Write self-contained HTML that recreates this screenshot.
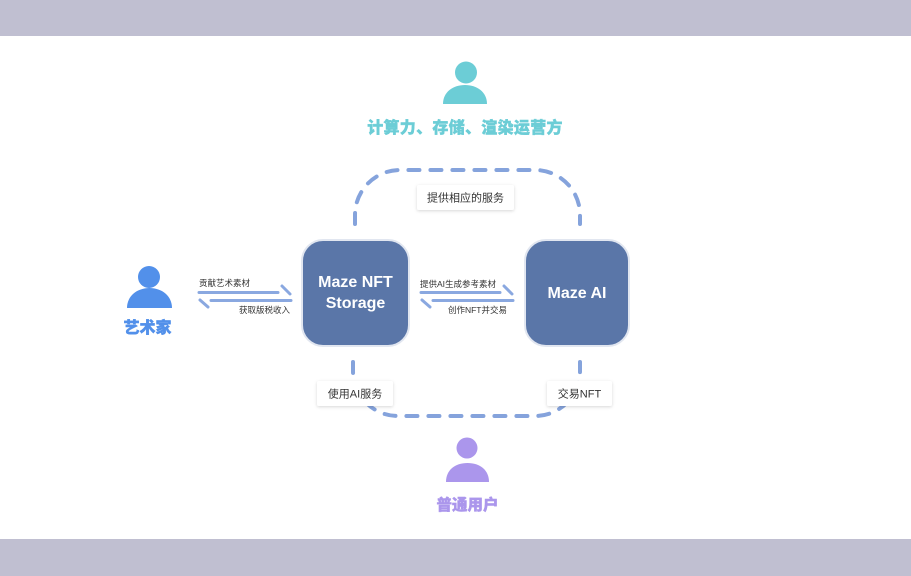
<!DOCTYPE html>
<html><head><meta charset="utf-8"><style>
html,body{margin:0;padding:0;background:#fff;}
body{width:911px;height:576px;overflow:hidden;position:relative;}
svg{position:absolute;left:0;top:0;}
.cn{font-family:"Liberation Sans","Noto Sans CJK SC",sans-serif;}
</style></head><body>
<svg width="911" height="576" viewBox="0 0 911 576" xmlns="http://www.w3.org/2000/svg">
<defs>
<filter id="sh" x="-20%" y="-40%" width="140%" height="180%">
<feDropShadow dx="0" dy="1" stdDeviation="1.6" flood-color="#000" flood-opacity="0.16"/>
</filter>
</defs>
<rect x="0" y="0" width="911" height="36" fill="#c0bfd1"/>
<rect x="0" y="539" width="911" height="37" fill="#c0bfd1"/>

<!-- dashed loops -->
<path d="M355,224 L355,215 A45,45 0 0 1 400,170 L535,170 A45,45 0 0 1 580,215 L580,224" fill="none" stroke="#85a3dc" stroke-width="4" stroke-linecap="round" stroke-dasharray="11 11"/>
<path d="M353,362 L353,371 A45,45 0 0 0 398,416 L535,416 A45,45 0 0 0 580,371 L580,362" fill="none" stroke="#85a3dc" stroke-width="4" stroke-linecap="round" stroke-dasharray="11 11"/>

<!-- boxes -->
<rect x="302" y="240" width="107" height="106" rx="21" fill="#5a76a8" stroke="#e1e6f0" stroke-width="2"/>
<rect x="525" y="240" width="104" height="106" rx="21" fill="#5a76a8" stroke="#e1e6f0" stroke-width="2"/>
<text x="355.5" y="287" text-anchor="middle" font-family="Liberation Sans, sans-serif" font-weight="bold" font-size="16" fill="#fff">Maze NFT</text>
<text x="355.5" y="308" text-anchor="middle" font-family="Liberation Sans, sans-serif" font-weight="bold" font-size="16" fill="#fff">Storage</text>
<text x="577" y="298" text-anchor="middle" font-family="Liberation Sans, sans-serif" font-weight="bold" font-size="16" fill="#fff">Maze AI</text>

<!-- labels on loops -->
<rect x="417" y="185" width="97" height="25" rx="2" fill="#fff" filter="url(#sh)"/>
<text x="465.5" y="201.5" text-anchor="middle" class="cn" font-size="11" fill="#333">提供相应的服务</text>
<rect x="317" y="381" width="76" height="25" rx="2" fill="#fff" filter="url(#sh)"/>
<text x="355" y="397.5" text-anchor="middle" class="cn" font-size="11" fill="#333">使用AI服务</text>
<rect x="547" y="381" width="65" height="25" rx="2" fill="#fff" filter="url(#sh)"/>
<text x="579.5" y="397.5" text-anchor="middle" class="cn" font-size="11" fill="#333">交易NFT</text>

<!-- arrows -->
<g stroke="#8aa8e0" stroke-width="3" stroke-linecap="round" fill="none">
<line x1="199" y1="292.5" x2="278" y2="292.5"/>
<line x1="282" y1="286" x2="290" y2="294"/>
<line x1="211" y1="300.5" x2="291" y2="300.5"/>
<line x1="200" y1="300" x2="208" y2="307"/>
<line x1="421" y1="292.5" x2="500" y2="292.5"/>
<line x1="504" y1="286" x2="512" y2="294"/>
<line x1="433" y1="300.5" x2="513" y2="300.5"/>
<line x1="422" y1="300" x2="430" y2="307"/>
</g>
<text x="199" y="286" class="cn" font-size="8.5" fill="#333">贡献艺术素材</text>
<text x="290" y="313" text-anchor="end" class="cn" font-size="8.5" fill="#333">获取版税收入</text>
<text x="420" y="287" class="cn" font-size="8.5" fill="#333">提供AI生成参考素材</text>
<text x="507" y="313" text-anchor="end" class="cn" font-size="8.5" fill="#333">创作NFT并交易</text>

<!-- top person -->
<circle cx="466" cy="72.5" r="11" fill="#6ccdd6"/>
<path d="M443,104 C443,92 453,85 465,85 C477,85 487,92 487,104 Z" fill="#6ccdd6"/>
<text x="465" y="133" text-anchor="middle" class="cn" font-size="16" font-weight="900" letter-spacing="0.3" fill="#6ccdd6" stroke="#6ccdd6" stroke-width="0.4">计算力、存储、渲染运营方</text>

<!-- left person -->
<circle cx="149" cy="277" r="11" fill="#5290ea"/>
<path d="M127,308 C127,296 137,288 149.5,288 C162,288 172,296 172,308 Z" fill="#5290ea"/>
<text x="147.5" y="333" text-anchor="middle" class="cn" font-size="16" font-weight="900" fill="#5290ea" stroke="#5290ea" stroke-width="0.4">艺术家</text>

<!-- bottom person -->
<circle cx="467" cy="448" r="10.5" fill="#ab96ec"/>
<path d="M446,482 C446,470 455,463 467.5,463 C480,463 489,470 489,482 Z" fill="#ab96ec"/>
<text x="467.5" y="510" text-anchor="middle" class="cn" font-size="15.5" font-weight="900" fill="#ab96ec" stroke="#ab96ec" stroke-width="0.4">普通用户</text>
</svg>
</body></html>
